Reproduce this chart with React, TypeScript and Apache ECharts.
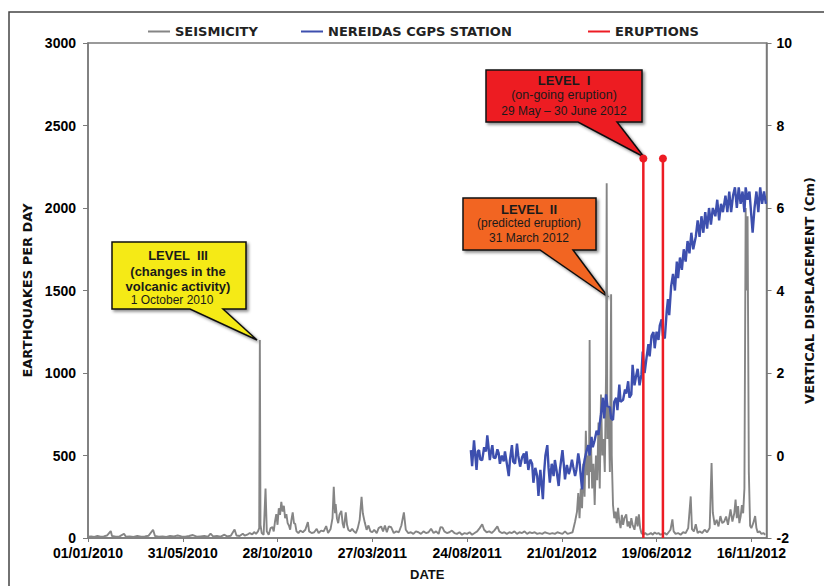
import React, { useEffect, useRef } from 'react';
import * as echarts from 'echarts';

// Days counted from 01/01/2010
const START_UTC = Date.UTC(2010, 0, 1);
const X_MIN_DAY = 0;
const X_MAX_DAY = 1074;
const X_TICK_DAYS = 150;

const LEFT_MIN = 0;
const LEFT_MAX = 3000;
const LEFT_STEP = 500;
const RIGHT_MIN = -2;
const RIGHT_MAX = 10;
const RIGHT_STEP = 2;

const seismicDays = [
  0, 5, 10, 15, 20, 25, 30, 36, 38, 44, 50, 57, 60, 66, 72, 78, 84, 90, 96, 103, 106, 112, 118, 124, 130, 136, 142, 148,
  154, 160, 166, 172, 178, 184, 190, 194, 198, 204, 210, 216, 220, 226, 232, 235, 240, 245, 248, 252, 256, 260, 263, 266,
  269, 271, 272, 273, 275, 278, 281, 283, 286, 289, 292, 294, 296, 298, 300, 302, 304, 306, 308, 310, 312, 314, 316, 318,
  320, 322, 324, 326, 328, 330, 333, 336, 340, 344, 348, 350, 354, 358, 362, 365, 369, 373, 377, 380, 384, 387, 389, 391,
  392, 394, 396, 398, 401, 403, 405, 408, 410, 412, 415, 418, 421, 424, 427, 430, 433, 435, 438, 441, 444, 447, 450, 453,
  457, 460, 464, 467, 470, 473, 476, 480, 484, 488, 492, 496, 500, 503, 507, 511, 515, 519, 523, 527, 531, 535, 539, 543,
  547, 551, 555, 558, 561, 564, 568, 572, 576, 580, 584, 588, 592, 596, 600, 604, 608, 612, 616, 620, 624, 627, 631, 635,
  639, 643, 648, 651, 655, 659, 663, 667, 671, 675, 679, 683, 687, 691, 695, 699, 703, 707, 711, 715, 719, 723, 727, 731,
  735, 739, 743, 747, 751, 755, 759, 763, 767, 771, 774, 776, 778, 780, 782, 784, 786, 788, 790, 792, 793, 794, 795, 796,
  798, 800, 802, 804, 806, 808, 810, 812, 814, 816, 818, 820, 821, 822, 824, 826, 828, 829, 831, 833, 835, 837, 839, 841,
  843, 845, 847, 849, 852, 854, 856, 858, 860, 862, 865, 868, 870, 872, 874, 876, 879, 882, 885, 888, 891, 894, 897, 900,
  903, 906, 910, 913, 916, 919, 922, 925, 927, 930, 934, 938, 942, 946, 950, 954, 956, 959, 962, 965, 968, 972, 976, 980,
  984, 987, 989, 992, 995, 998, 1001, 1004, 1007, 1010, 1013, 1017, 1020, 1023, 1025, 1027, 1029, 1031, 1033, 1035, 1037,
  1039, 1041, 1042, 1044, 1046, 1048, 1050, 1053, 1056, 1058, 1060, 1063, 1066, 1069, 1072,
];
const seismicCounts = [
  8, 10, 6, 12, 8, 10, 15, 42, 12, 8, 10, 26, 8, 10, 6, 12, 8, 10, 14, 50, 12, 8, 10, 6, 12, 10, 15, 10,
  8, 12, 18, 8, 10, 12, 8, 26, 10, 12, 8, 20, 10, 14, 52, 15, 12, 26, 14, 20, 30, 22, 36, 25,
  40, 60, 1200, 80, 30, 20, 300, 40, 20, 60, 66, 40, 100, 145, 80, 180, 140, 219, 160, 195, 120, 145, 90, 76,
  50, 110, 155, 90, 86, 40, 30, 45, 35, 50, 96, 40, 30, 35, 56, 30, 45, 40, 72, 30, 55, 120, 310, 150,
  205, 120, 90, 140, 165, 90, 60, 155, 80, 50, 40, 56, 40, 30, 60, 110, 250, 150, 95, 50, 76, 40, 35, 50,
  30, 60, 70, 40, 75, 35, 70, 65, 30, 40, 35, 76, 155, 50, 30, 35, 25, 40, 35, 25, 40, 30, 35, 56,
  30, 40, 25, 66, 64, 40, 30, 35, 45, 30, 25, 35, 20, 30, 25, 35, 20, 30, 40, 60, 83, 50, 35, 40,
  30, 45, 70, 40, 30, 35, 25, 35, 30, 40, 25, 35, 30, 40, 25, 35, 30, 35, 25, 30, 25, 35, 30, 25,
  30, 25, 35, 30, 25, 40, 25, 30, 35, 100, 160, 272, 120, 300, 180, 450, 250, 650, 380, 500, 300, 1200, 400, 600,
  300, 450, 200, 500, 350, 700, 300, 870, 500, 600, 400, 1000, 2150, 600, 800, 400, 1477, 500, 200, 120, 160, 90, 183, 100,
  60, 140, 80, 120, 143, 70, 100, 60, 120, 80, 50, 131, 70, 143, 60, 30, 20, 30, 20, 24, 30, 20, 34, 25,
  30, 20, 25, 30, 20, 35, 50, 113, 40, 25, 30, 20, 35, 30, 60, 252, 54, 40, 83, 30, 40, 30, 50, 35,
  60, 455, 153, 80, 110, 70, 133, 90, 100, 130, 80, 173, 100, 150, 233, 120, 193, 90, 130, 200, 150,
  300, 2000, 1500, 1950, 400, 74, 60, 90, 133, 60, 34, 40, 25, 30, 20,
];

const gpsDays = [
  606, 608, 611, 613, 615, 617, 619, 621, 624, 627, 630, 632, 634, 636, 638, 640, 642, 645, 648, 650, 652, 655, 658, 660,
  663, 666, 668, 671, 673, 676, 679, 681, 684, 687, 690, 692, 694, 697, 700, 703, 705, 708, 711, 713, 716, 718, 720, 722,
  724, 727, 729, 731, 734, 737, 739, 742, 745, 747, 749, 751, 753, 755, 758, 761, 763, 766, 768, 771, 773, 776, 778, 780,
  782, 784, 786, 789, 792, 794, 797, 799, 802, 805, 808, 810, 812, 815, 817, 820, 822, 826, 828, 831, 833, 836, 838, 841,
  843, 847, 850, 852, 855, 857, 860, 862, 865, 868, 870, 873, 876, 878, 881, 884, 887, 889, 892, 895, 897, 900, 903, 905,
  908, 910, 913, 916, 918, 920, 923, 926, 929, 932, 934, 937, 940, 943, 946, 949, 952, 955, 958, 962, 965, 968, 971, 974,
  977, 980, 983, 986, 989, 993, 996, 999, 1002, 1005, 1009, 1012, 1015, 1018, 1021, 1024, 1027, 1030, 1033, 1036, 1039,
  1041, 1044, 1047, 1050, 1052, 1055, 1058, 1061, 1064, 1067, 1070, 1073,
];
const gpsCm = [
  0.13, -0.26, 0.37, 0.0, -0.35, 0.1, 0.13, -0.1, -0.11, 0.2, 0.1, 0.49, 0.2, -0.11, 0.1, 0.25, -0.05, -0.06, 0.15, 0.06, -0.2, 0.0, -0.14, 0.1,
  -0.2, -0.5, -0.1, 0.25, -0.15, -0.2, 0.29, 0.0, -0.27, -0.05, 0.05, -0.2, 0.1, -0.35, -0.1, -0.2, -0.66, -0.3, -0.5, -0.98, -0.35, -0.7, -1.06, -0.4,
  0.0, 0.25, -0.3, -0.66, -0.2, -0.5, -0.11, -0.4, -0.74, -0.35, -0.1, 0.13, -0.2, -0.58, -0.23, -0.45, -0.35, -0.1, -0.27, -0.5, -0.35, 0.05, -0.15, -0.5,
  -0.82, -0.3, -0.11, 0.1, 0.25, 0.0, 0.45, 0.2, 0.37, 0.6, 0.5, 0.77, 1.0, 1.4, 0.9, 1.48, 1.2, 1.17, 0.9, 0.86, 1.3, 1.4, 1.1, 1.72,
  1.3, 1.35, 1.6, 1.5, 1.8, 1.4, 1.48, 2.2, 1.7, 1.96, 2.1, 1.7, 1.96, 2.52, 2.0, 2.36, 2.7, 2.4, 2.9, 2.99, 2.6, 3.0, 2.8, 3.15,
  3.3, 2.9, 2.84, 3.5, 3.79, 3.4, 4.1, 4.4, 4.0, 4.7, 4.3, 4.8, 4.5, 5.0, 4.7, 5.2, 4.9, 5.4, 5.0, 5.3, 5.7, 5.3, 5.8, 5.4,
  5.9, 5.5, 6.0, 5.6, 6.0, 5.8, 6.2, 5.7, 6.1, 5.9, 6.3, 5.9, 6.4, 5.9, 6.3, 6.5, 6.0, 6.5, 6.1, 6.4, 5.9,
  6.5, 6.2, 6.4, 5.8, 5.4, 6.0, 6.4, 5.9, 6.5, 6.1, 6.4, 6.1,
];

const eruptionDays = [879, 910];
const eruptionMarkerLevel = 2300;

const seriesNames = ['SEISMICITY', 'NEREIDAS CGPS STATION', 'ERUPTIONS'];

const GREY = '#858585';
const BLUE = '#3D4FAE';
const RED = '#ED1C24';
const FONT = '"Liberation Sans", Arial, sans-serif';
const WIDE_FONT = '"DejaVu Sans", "Liberation Sans", sans-serif';

function dayLabel(d: number): string {
  const t = new Date(START_UTC + Math.round(d) * 86400000);
  const dd = String(t.getUTCDate()).padStart(2, '0');
  const mm = String(t.getUTCMonth() + 1).padStart(2, '0');
  return `${dd}/${mm}/${t.getUTCFullYear()}`;
}

function callout(points: number[][], fill: string, lines: { text: string; x: number; y: number; bold: boolean; size: number }[]) {
  const children: any[] = [
    {
      type: 'polygon',
      shape: { points },
      style: { fill, stroke: '#111', lineWidth: 1.5, shadowBlur: 3, shadowOffsetX: 2, shadowOffsetY: 2, shadowColor: 'rgba(0,0,0,0.45)' },
    },
  ];
  lines.forEach((l) => {
    children.push({
      type: 'text',
      style: {
        text: l.text,
        x: l.x,
        y: l.y,
        textAlign: 'center',
        textVerticalAlign: 'middle',
        font: `${l.bold ? 'bold ' : ''}${l.size}px ${FONT}`,
        fill: '#1a1a1a',
      },
    });
  });
  return { type: 'group', z: 100, children };
}

export default function App() {
  const ref = useRef<HTMLDivElement>(null);

  useEffect(() => {
    document.body.style.margin = '0';
    if (!ref.current) return;
    const chart = echarts.init(ref.current, undefined, { renderer: 'svg' });

    const seismicData = seismicDays.map((d, i) => [d, seismicCounts[i]]);
    const gpsData = gpsDays.map((d, i) => [d, gpsCm[i]]);

    const eruptionSeries = eruptionDays.map((d) => ({
      type: 'line',
      name: seriesNames[2],
      data: [
        { value: [d, 0], symbol: 'none' },
        { value: [d, eruptionMarkerLevel] },
      ],
      symbol: 'circle',
      symbolSize: 8,
      showSymbol: true,
      lineStyle: { color: RED, width: 2.5 },
      itemStyle: { color: RED },
      z: 4,
    }));

    const legendText = { fontSize: 13, fontWeight: 'bold', color: '#222', fontFamily: WIDE_FONT };
    const legendBase = { top: 20, icon: 'rect', itemWidth: 22, itemHeight: 2, itemGap: 5, textStyle: legendText };
    const nameStyle = { fontSize: 13, fontWeight: 'bold', color: '#111', fontFamily: WIDE_FONT };

    chart.setOption({
      animation: false,
      textStyle: { fontFamily: FONT },
      legend: [
        { ...legendBase, left: 143, data: [seriesNames[0]] },
        { ...legendBase, left: 296, data: [seriesNames[1]] },
        { ...legendBase, left: 583, data: [seriesNames[2]] },
      ],
      grid: {
        left: 88,
        right: 53,
        top: 43,
        bottom: 40,
        show: true,
        borderColor: '#7a7a7a',
        borderWidth: 1.5,
      },
      xAxis: {
        type: 'value',
        min: X_MIN_DAY,
        max: X_MAX_DAY,
        interval: X_TICK_DAYS,
        name: 'DATE',
        nameLocation: 'middle',
        nameGap: 30,
        nameTextStyle: { fontSize: 13, fontWeight: 'bold', color: '#111', fontFamily: FONT },
        splitLine: { show: false },
        axisLine: { lineStyle: { color: '#7a7a7a', width: 1.5 } },
        axisTick: { length: 4, lineStyle: { color: '#7a7a7a' } },
        axisLabel: {
          formatter: (v: number) => dayLabel(v),
          showMaxLabel: false,
          fontSize: 14,
          fontWeight: 'bold',
          color: '#000',
          margin: 8,
          fontFamily: FONT,
        },
      },
      yAxis: [
        {
          type: 'value',
          min: LEFT_MIN,
          max: LEFT_MAX,
          interval: LEFT_STEP,
          name: 'EARTHQUAKES PER DAY',
          nameLocation: 'middle',
          nameRotate: 90,
          nameGap: 46,
          nameTextStyle: nameStyle,
          splitLine: { show: false },
          axisLine: { show: true, lineStyle: { color: '#7a7a7a', width: 1.5 } },
          axisTick: { show: true, length: 5, lineStyle: { color: '#7a7a7a' } },
          axisLabel: { formatter: (v: number) => String(v), fontSize: 14, fontWeight: 'bold', color: '#000', margin: 12, fontFamily: FONT },
        },
        {
          type: 'value',
          min: RIGHT_MIN,
          max: RIGHT_MAX,
          interval: RIGHT_STEP,
          position: 'right',
          name: 'VERTICAL DISPLACEMENT (Cm)',
          nameLocation: 'middle',
          nameRotate: 90,
          nameGap: 27,
          nameTextStyle: nameStyle,
          splitLine: { show: false },
          axisLine: { show: true, lineStyle: { color: '#7a7a7a', width: 1.5 } },
          axisTick: { show: true, length: 5, lineStyle: { color: '#7a7a7a' } },
          axisLabel: { formatter: (v: number) => String(v), fontSize: 14, fontWeight: 'bold', color: '#000', margin: 10, fontFamily: FONT },
        },
      ],
      series: [
        {
          type: 'line',
          name: seriesNames[0],
          data: seismicData,
          symbol: 'none',
          lineStyle: { color: GREY, width: 1.9 },
          itemStyle: { color: GREY },
          z: 2,
        },
        {
          type: 'line',
          name: seriesNames[1],
          yAxisIndex: 1,
          data: gpsData,
          symbol: 'none',
          lineStyle: { color: BLUE, width: 2.4 },
          itemStyle: { color: BLUE },
          z: 3,
        },
        ...eruptionSeries,
      ],
      graphic: [
        {
          type: 'rect',
          z: 0,
          shape: { x: 9, y: 12, width: 900, height: 700 },
          style: { fill: 'none', stroke: '#444', lineWidth: 1.5 },
        },
        callout(
          [[112, 242], [246, 242], [246, 309], [223, 309], [257, 340], [190, 309], [112, 309]],
          '#F5EA14',
          [
            { text: 'LEVEL  III', x: 178, y: 255, bold: true, size: 13 },
            { text: '(changes in the', x: 178, y: 271, bold: true, size: 13 },
            { text: 'volcanic activity)', x: 178, y: 286, bold: true, size: 13 },
            { text: '1 October 2010', x: 172, y: 300, bold: false, size: 12 },
          ],
        ),
        callout(
          [[486, 70], [642, 70], [642, 122], [617, 122], [644, 157], [578, 122], [486, 122]],
          '#ED1C24',
          [
            { text: 'LEVEL  I', x: 564, y: 80, bold: true, size: 13 },
            { text: '(on-going eruption)', x: 564, y: 95, bold: false, size: 12.5 },
            { text: '29 May – 30 June 2012', x: 564, y: 110.5, bold: false, size: 12 },
          ],
        ),
        callout(
          [[463, 198], [596, 198], [596, 250], [573, 250], [608, 297], [540, 250], [463, 250]],
          '#F26522',
          [
            { text: 'LEVEL  II', x: 529, y: 209, bold: true, size: 13 },
            { text: '(predicted eruption)', x: 529, y: 223, bold: false, size: 12 },
            { text: '31 March 2012', x: 529, y: 237.5, bold: false, size: 12 },
          ],
        ),
      ],
    });

    return () => {
      chart.dispose();
    };
  }, []);

  return <div ref={ref} style={{ width: 824, height: 586 }} />;
}
